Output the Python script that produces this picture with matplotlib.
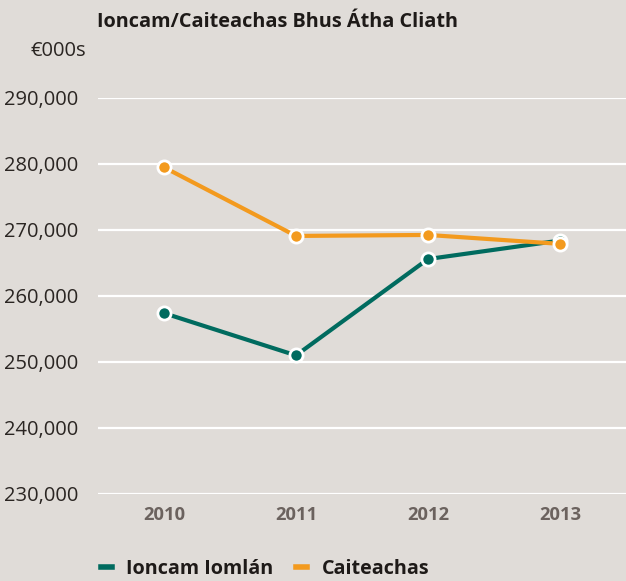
import matplotlib
matplotlib.use("Agg")
import matplotlib.pyplot as plt

years = ["2010", "2011", "2012", "2013"]
ioncam = [257400, 251000, 265600, 268400]
caiteachas = [279500, 269100, 269250, 267900]
yticks = [230000, 240000, 250000, 260000, 270000, 280000, 290000]

bg = "#e0dcd8"
teal = "#006b5f"
orange = "#f39a1e"

plt.rcParams['font.family'] = ['Open Sans', 'DejaVu Sans']

fig = plt.figure(figsize=(6.26, 5.81), dpi=100, facecolor=bg)
ax = fig.add_axes([98/626, 1-494/581, 1-98/626, 396/581], facecolor=bg)

x = list(range(len(years)))
ax.set_xlim(-0.5, len(years) - 0.5)
ax.set_ylim(230000, 290000)
for yt in yticks:
    ax.axhline(yt, color="white", lw=1.6, zorder=1)

ax.plot(x, ioncam, color=teal, lw=3, marker="o", ms=9.5, mfc=teal, mec="white", mew=2,
        zorder=3, clip_on=False, label="Ioncam Iomlán")
ax.plot(x, caiteachas, color=orange, lw=3, marker="o", ms=9.5, mfc=orange, mec="white", mew=2,
        zorder=4, clip_on=False, label="Caiteachas")

for s in ax.spines.values():
    s.set_visible(False)
ax.set_yticks(yticks)
ax.set_yticklabels([f"{v:,}" for v in yticks], fontsize=14.5, color="#2a2522")
ax.set_xticks(x)
ax.set_xticklabels(years, fontsize=13.2, fontweight="bold", color="#6b625e")
ax.tick_params(axis="both", length=0)
ax.tick_params(axis="y", pad=14)
ax.tick_params(axis="x", pad=9)

fig.text(97/626, 1-22/581, "Ioncam/Caiteachas Bhus Átha Cliath", fontsize=14.3, fontweight="bold",
         color="#1e1a18", va="center", ha="left")
fig.text(86/626, 1-51/581, "€000s", fontsize=14.5, color="#2a2522", va="center", ha="right")

leg = fig.legend(loc="center left", bbox_to_anchor=(87/626, 1-569/581), ncol=2, frameon=False,
                 handlelength=0.55, handletextpad=0.75, columnspacing=1.15,
                 borderpad=0.2, prop={"size": 14.2, "weight": "bold"})
for h in leg.legend_handles:
    h.set_marker("")
    h.set_linewidth(4)
for t in leg.get_texts():
    t.set_color("#1e1a18")

fig.savefig("out.png", dpi=100, facecolor=bg)
